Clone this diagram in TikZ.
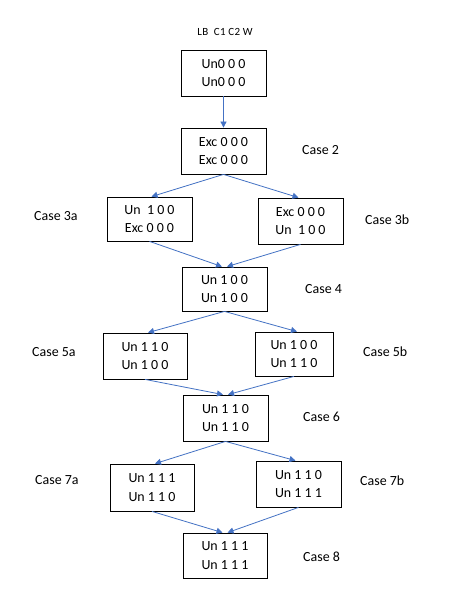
\documentclass[tikz,border=0pt]{standalone}
\usepackage{fontspec}
\setmainfont{Carlito}
\usetikzlibrary{arrows.meta}
\definecolor{flowblue}{HTML}{4472C4}
\begin{document}
\begin{tikzpicture}[x=1bp,y=-1bp,
  state/.style={draw=black,line width=0.8bp,minimum width=85bp,minimum height=46bp,
    inner sep=0pt,align=center,font=\fontsize{14}{19}\selectfont},
  caselabel/.style={anchor=west,inner sep=0pt,font=\fontsize{14}{16}\selectfont},
  flow/.style={draw=flowblue,line width=0.8bp,-{Triangle[length=6bp,width=6bp]}}]
\useasboundingbox[fill=white] (0,0) rectangle (451,605);

% column header
\node[inner sep=0pt,font=\fontsize{11}{13}\selectfont\addfontfeature{LetterSpace=3}] (hdr) at (225,32) {LB\ \ C1 C2 W};

% states
\node[state] (b0)  at (223.5,73)  {Un0 0 0\\Un0 0 0};
\node[state] (b1)  at (223.5,151) {Exc 0 0 0\\Exc 0 0 0};
\node[state,minimum height=44bp] (b3a) at (149.5,219) {Un\ \ 1 0 0\\Exc 0 0 0};
\node[state] (b3b) at (300.5,221) {Exc 0 0 0\\Un\ \ 1 0 0};
\node[state,minimum height=44bp] (b4)  at (224.5,289) {Un 1 0 0\\Un 1 0 0};
\node[state,minimum width=84bp] (b5a) at (145,356)   {Un 1 1 0\\Un 1 0 0};
\node[state,minimum width=78bp,minimum height=44bp] (b5b) at (294,354) {Un 1 0 0\\Un 1 1 0};
\node[state] (b6)  at (225.5,418) {Un 1 1 0\\Un 1 1 0};
\node[state,minimum width=84bp,minimum height=47bp] (b7a) at (152,487.5) {Un 1 1 1\\Un 1 1 0};
\node[state] (b7b) at (298.5,484) {Un 1 1 0\\Un 1 1 1};
\node[state,minimum width=84bp,minimum height=45bp] (b8)  at (225,555.5) {Un 1 1 1\\Un 1 1 1};

% case labels
\node[caselabel] (c2)  at (302,150) {Case 2};
\node[caselabel] (c3a) at (34,216)  {Case 3a};
\node[caselabel] (c3b) at (365,220) {Case 3b};
\node[caselabel] (c4)  at (305,289) {Case 4};
\node[caselabel] (c5a) at (32,352)  {Case 5a};
\node[caselabel] (c5b) at (363,352) {Case 5b};
\node[caselabel] (c6)  at (303,417) {Case 6};
\node[caselabel] (c7a) at (35,480)  {Case 7a};
\node[caselabel] (c7b) at (360,481) {Case 7b};
\node[caselabel] (c8)  at (303,557) {Case 8};

% transitions
\draw[flow] (b0.south) -- (b1.north);
\draw[flow] (b1.south) -- ([xshift=2bp]b3a.north);
\draw[flow] (b1.south) -- ([xshift=-2bp]b3b.north);
\draw[flow] (b3a.south) -- ([xshift=-2.5bp]b4.north);
\draw[flow] (b3b.south) -- ([xshift=2.5bp]b4.north);
\draw[flow] (b4.south) -- ([xshift=3bp]b5a.north);
\draw[flow] (b4.south) -- ([xshift=3bp]b5b.north);
\draw[flow] (b5a.south) -- ([xshift=-2.5bp]b6.north);
\draw[flow] (b5b.south) -- ([xshift=2.5bp]b6.north);
\draw[flow] (b6.south) -- ([xshift=3bp]b7a.north);
\draw[flow] (b6.south) -- ([xshift=-3bp]b7b.north);
\draw[flow] (b7a.south) -- ([xshift=-2.5bp]b8.north);
\draw[flow] (b7b.south) -- ([xshift=2.5bp]b8.north);
\end{tikzpicture}
\end{document}
